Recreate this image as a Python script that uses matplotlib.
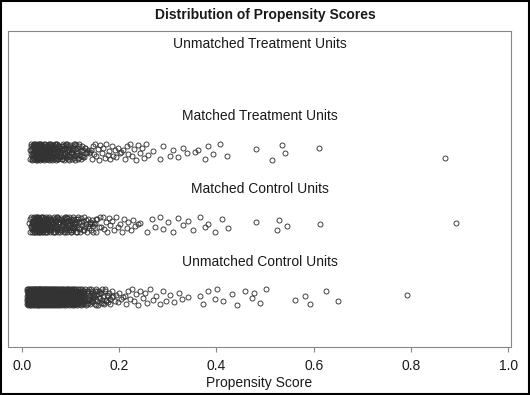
import numpy as np
import matplotlib
matplotlib.use("Agg")
import matplotlib.pyplot as plt
from matplotlib.patches import Rectangle

plt.rcParams['font.family'] = ['Liberation Sans', 'DejaVu Sans']

# propensity scores, in thousandths
treat_matched = [
    16, 17, 18, 19, 19, 20, 21, 21, 22, 22, 23, 23, 24, 24, 25, 25, 25, 26, 26, 27, 27, 27, 28, 28, 28,
    29, 29, 29, 30, 30, 30, 31, 31, 31, 32, 32, 32, 33, 33, 33, 34, 34, 34, 35, 35, 35, 36, 36, 36, 37,
    37, 37, 38, 38, 38, 39, 39, 39, 40, 40, 40, 41, 41, 41, 42, 42, 42, 43, 43, 44, 44, 44, 45, 45, 45,
    46, 46, 47, 47, 47, 48, 48, 49, 49, 49, 50, 50, 51, 51, 52, 52, 52, 53, 53, 54, 54, 55, 55, 56, 56,
    57, 57, 58, 58, 59, 59, 60, 60, 61, 61, 62, 62, 63, 63, 64, 65, 65, 66, 66, 67, 68, 68, 69, 70, 70,
    71, 72, 72, 73, 74, 74, 75, 76, 77, 77, 78, 79, 80,
    18, 20, 22, 23, 25, 26, 27, 29, 30, 31, 33, 34, 35, 36, 38, 39, 40, 42, 43, 44, 45, 47, 48, 50, 51,
    53, 54, 56, 57, 59, 61, 62, 64, 66, 67, 69, 71, 73, 75, 77, 79, 82, 84, 87, 89,
    81, 82, 82, 83, 84, 85, 86, 86, 87, 88, 89, 90, 91, 92, 92, 93, 94, 95, 96, 97, 98, 99, 100, 101,
    102, 103, 104, 105, 107, 108, 109, 110, 112, 113, 114, 116, 117, 118, 120, 121, 123, 124, 126, 128,
    129, 131, 133, 135,
    83, 85, 88, 90, 93, 95, 97, 99, 102, 104, 106, 109, 111, 113, 115, 118, 121, 123, 126, 130,
    137, 139, 141, 143, 146, 148, 151, 153, 156, 158, 161, 164, 167, 170, 173, 176, 179,
    182, 185, 188, 191, 194, 198, 201, 204, 208, 211, 215, 219, 222, 226, 230, 234, 238, 242, 246, 250,
    255, 259,
    270, 284, 290, 305, 311, 320, 331, 340, 356, 362, 377, 383, 393, 407, 422, 481, 514, 535, 541, 611,
    870]

ctrl_matched = [
    15, 16, 17, 18, 19, 20, 20, 21, 22, 22, 23, 23, 24, 24, 25, 25, 26, 26, 26, 27, 27, 28, 28, 28, 29,
    29, 30, 30, 30, 31, 31, 32, 32, 32, 33, 33, 34, 34, 34, 35, 35, 36, 36, 36, 37, 37, 38, 38, 38, 39,
    39, 40, 40, 41, 41, 41, 42, 42, 43, 43, 44, 44, 45, 45, 46, 46, 47, 47, 48, 48, 49, 49, 50, 50, 51,
    51, 52, 53, 53, 54, 54, 55, 56, 56, 57, 58, 58, 59, 60, 60, 61, 62, 63, 63, 64, 65, 66, 66, 67, 68,
    69, 70, 70, 71, 72, 73, 74, 75, 76, 77, 78, 79, 80,
    19, 21, 23, 24, 26, 27, 29, 31, 32, 34, 35, 37, 39, 40, 42, 44, 46, 47, 49, 51, 53, 55, 57, 59, 61,
    63, 65, 67, 69, 71, 73, 76, 78, 80, 83, 85, 88, 91, 94, 97, 100, 104, 108, 112,
    81, 82, 83, 84, 85, 86, 87, 88, 89, 90, 91, 92, 93, 94, 95, 96, 97, 98, 99, 100, 101, 102, 103, 105,
    106, 107, 108, 110, 111, 112, 114, 115, 117, 118, 120, 121, 123, 125, 126, 128, 130, 132, 134, 136,
    138, 140, 142, 144, 146, 148, 150, 153, 155, 158, 160,
    84, 87, 89, 92, 95, 98, 101, 104, 107, 110, 113, 116, 119, 122, 127, 131, 135, 139, 143, 147, 152,
    163, 166, 169, 172, 175, 179, 182, 186, 190, 194, 198, 202, 206, 210, 215, 219, 224, 228, 233, 238,
    243, 257, 267, 274, 284, 290, 300, 310, 321, 331, 342, 352, 366, 377, 383, 397, 412, 424, 481, 525,
    529, 545, 613, 893]

# unmatched controls: the solid core as score / count pairs, then single points
ctrl_core_scores = [10, 12, 14, 16, 18, 20, 22, 24, 26, 28, 30, 32, 34, 36, 38, 40, 42, 44, 46, 48,
                    50, 52, 54, 56, 58, 60, 62, 64, 66, 68, 70, 72, 74, 76, 78, 80, 82, 84, 86, 88,
                    90, 92, 94, 96, 98, 100, 102, 104, 106, 108, 110, 112, 114, 116, 118, 120, 122,
                    124, 126, 128, 130]
ctrl_core_counts = [6, 10, 13, 13, 13, 13, 13, 13, 13, 13, 13, 13, 13, 13, 13, 13, 12, 12, 12, 12,
                    12, 12, 12, 12, 12, 12, 11, 11, 11, 11, 11, 11, 10, 10, 10, 10, 10, 10, 9, 9,
                    9, 9, 9, 8, 8, 8, 8, 8, 7, 7, 7, 7, 6, 6, 6, 6, 5, 5, 5, 5, 4]
ctrl_unmatched_rest = [
    132, 133, 134, 135, 136, 137, 138, 139, 140, 141, 142, 143, 144, 145, 146, 147, 148, 150, 151, 152,
    153, 155, 156, 157, 159, 160, 161, 163, 164, 165, 167, 169, 171, 172, 174, 176, 179, 182, 185, 188,
    133, 136, 139, 142, 145, 149, 152, 154, 158, 162, 166, 170, 173, 177, 181, 186,
    191, 194, 197, 200, 204, 207, 211, 214, 218, 222, 226, 230, 234, 238, 243, 248, 253, 258, 264, 270,
    276, 283, 290, 297, 305, 313, 322, 330,
    342, 366, 372, 383, 397, 401, 414, 432, 442, 459, 473, 477, 490, 502, 562, 582, 593, 626, 650, 792]

treat_unmatched = []

row_labels = ["Unmatched Control Units", "Matched Control Units",
              "Matched Treatment Units", "Unmatched Treatment Units"]

# vertical jitter pattern (row units), cycled over the points of a row
JITTER = [0.02, -0.10, 0.08, -0.03, 0.11, -0.06, 0.04, -0.11, 0.09, -0.01, 0.05, -0.08,
          0.11, -0.04, 0.01, -0.10, 0.08, -0.05, 0.03, -0.07, 0.06, -0.02, 0.00]

ctrl_unmatched = np.concatenate([np.repeat(ctrl_core_scores, ctrl_core_counts),
                                 ctrl_unmatched_rest])
rows = [ctrl_unmatched, ctrl_matched, treat_matched, treat_unmatched]

fig = plt.figure(figsize=(5.3, 3.95), dpi=100, facecolor='white')
ax = fig.add_axes([8 / 530, 48 / 395, 503 / 530, 316 / 395])

for i, vals in enumerate(rows):
    x = np.asarray(vals, dtype=float) / 1000.0
    if len(x):
        y = i + np.resize(JITTER, len(x))
        ax.plot(x, y, linestyle='none', marker='o', ms=3.6, mew=0.65,
                mfc='none', mec='#333333')
    ax.text(0.5, i + 0.49, row_labels[i], ha='center', va='center',
            fontsize=10, color='#1a1a1a', transform=ax.get_yaxis_transform())

ax.set_xlim(-0.0288, 1.006)
ax.set_ylim(-0.688, 3.666)
ax.set_yticks([])
ax.set_xticks([0.0, 0.2, 0.4, 0.6, 0.8, 1.0])
ax.set_xticklabels(["0.0", "0.2", "0.4", "0.6", "0.8", "1.0"])
ax.tick_params(axis='x', direction='out', length=3.5, width=0.8, color='#888888',
               labelsize=10, labelcolor='#1a1a1a', pad=5.5)
for s in ax.spines.values():
    s.set_color('#888888')
    s.set_linewidth(0.8)

ax.set_xlabel("Propensity Score", fontsize=10, color='#1a1a1a', labelpad=2)
fig.text(0.5, 1 - 15 / 395, "Distribution of Propensity Scores", ha='center', va='center',
         fontsize=10, fontweight='bold', color='#1a1a1a')

# outer frame
fig.patches.append(Rectangle((0.002, 0.002), 0.996, 0.996, transform=fig.transFigure,
                             fill=False, edgecolor='black', linewidth=1.5))

fig.savefig("out.png", dpi=100)
